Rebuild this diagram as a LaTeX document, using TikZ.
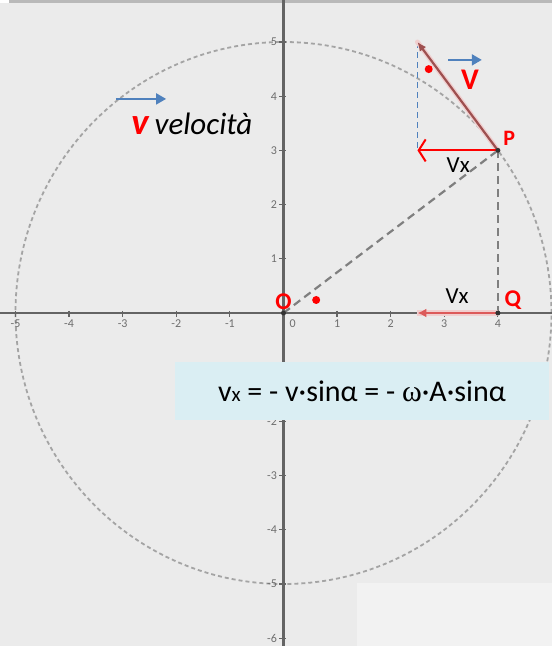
\documentclass[tikz,border=0pt]{standalone}
\usepackage{fontspec}
\setmainfont{Carlito}
\newfontfamily\omegafont{Liberation Serif}
\usepackage{tikz}
\usetikzlibrary{positioning,arrows.meta}

\definecolor{bggray}{HTML}{EBEBEB}
\definecolor{stripgray}{HTML}{B9B9B9}
\definecolor{axisgray}{HTML}{646464}
\definecolor{tickgray}{HTML}{6E6E6E}
\definecolor{circgray}{HTML}{A4A4A4}
\definecolor{guidegray}{HTML}{7F7F7F}
\definecolor{vred}{HTML}{FF0000}
\definecolor{vbrown}{HTML}{9E5050}
\definecolor{vglow}{HTML}{F0CFCF}
\definecolor{axred}{HTML}{DC5A5A}
\definecolor{officeblue}{HTML}{4F81BD}
\definecolor{boxblue}{HTML}{DAEEF3}
\definecolor{palebox}{HTML}{F2F2F2}

\begin{document}
\begin{tikzpicture}[
    x=53.6pt, y=54.2pt,
    axis/.style={draw=axisgray, line width=2.4pt},
    tickmark/.style={draw=axisgray, line width=1.2pt},
    ticklabel/.style={
        font=\fontsize{12}{12}\selectfont,
        text=tickgray,
        inner sep=1pt
    },
    orbit/.style={draw=circgray, line width=1.8pt, dash pattern=on 4pt off 3pt},
    guide/.style={draw=guidegray, line width=2.2pt, dash pattern=on 8pt off 5pt},
    point/.style={circle, fill=black!80, inner sep=0pt, minimum size=5pt},
    reddot/.style={circle, fill=vred, inner sep=0pt, minimum size=8pt},
    redlabel/.style={text=vred, font=\bfseries\fontsize{22}{22}\selectfont, inner sep=0pt},
    vxlabel/.style={font=\fontsize{23}{23}\selectfont, inner sep=0pt},
    bluearrow/.style={draw=officeblue, line width=2pt, -{Triangle[length=10pt,width=11pt]}},
    formula/.style={
        fill=boxblue,
        minimum width=374pt,
        minimum height=58pt,
        font=\fontsize{30}{30}\selectfont
    }
]

% canvas
\useasboundingbox[fill=bggray] (-5.289,-6.144) rectangle (5.009,5.775);
\fill[stripgray] (-5.121,5.775) rectangle (5.009,5.72);
\fill[white] (-5.289,5.775) rectangle (-5.121,5.72);

% points
\coordinate (O) at (0,0);
\coordinate (P) at (4,3);
\coordinate (Q) at (4,0);
\coordinate (vtip) at (2.5,5);
\coordinate (vxtip) at (2.5,3);
\coordinate (qtip) at (2.5,0);

% circle and axes
\draw[orbit] (O) ellipse [x radius=5, y radius=5];
\draw[axis] (-5.289,0) -- (5.009,0);
\draw[axis] (0,-6.144) -- (0,5.775);

\foreach \xv in {-5,...,-1,1,2,3,4} {
    \draw[tickmark] (\xv,0.04) -- (\xv,-0.08);
    \node[ticklabel, anchor=north] at (\xv,-0.1) {\xv};
}
\node[ticklabel, anchor=north] at (0.17,-0.1) {0};
\foreach \yv in {-6,...,-1,1,2,3,4,5} {
    \draw[tickmark] (-0.08,\yv) -- (0.04,\yv);
    \node[ticklabel, anchor=east] at (-0.1,\yv) {\yv};
}

% projections
\draw[guide] (O) -- (P);
\draw[guide] (P) -- (Q);
\draw[draw=officeblue, line width=1.8pt, dash pattern=on 6pt off 4pt] (vtip) -- (vxtip);

% velocity and its x component
\draw[vglow, line width=5pt, line cap=round] (P) -- (vtip);
\draw[vbrown, line width=2.2pt, -{Latex[length=9pt,width=8pt]}] (P) -- (vtip);
\draw[vred, line width=2pt, -{Straight Barb[length=7pt,width=22pt]}] (P) -- (vxtip);
\draw[vglow, line width=6pt] (Q) -- (qtip);
\draw[axred, line width=2.6pt, -{Latex[length=9pt,width=9pt]}] (Q) -- (qtip);

\node[point] (o) at (O) {};
\node[point] (p) at (P) {};
\node[point] (q) at (Q) {};

\node[reddot] (dot1) at (2.71,4.50) {};
\node[reddot] (dot2) at (0.61,0.24) {};

% labels
\node[redlabel, font=\bfseries\fontsize{30}{30}\selectfont] (vlab) at (3.48,4.30) {V};
\node[redlabel] (plab) at (4.21,3.23) {P};
\node[redlabel, font=\bfseries\fontsize{24}{24}\selectfont] (olab) at (0,0.2) {O};
\node[redlabel, font=\bfseries\fontsize{24}{24}\selectfont] (qlab) at (4.28,0.24) {Q};
\node[vxlabel] (vx1) at (3.26,2.73) {Vx};
\node[vxlabel] (vx2) at (3.24,0.31) {Vx};

\coordinate (a1) at (3.07,4.67);
\coordinate (a2) at (3.70,4.67);
\draw[bluearrow] (a1) -- (a2);
\coordinate (b1) at (-3.125,3.95);
\coordinate (b2) at (-2.19,3.95);
\draw[bluearrow] (b1) -- (b2);

\node[inner sep=0pt] (legend) at (-1.71,3.49)
{{\fontsize{37}{37}\selectfont\bfseries\itshape\color{vred}v}\hspace{6pt}{\fontsize{31}{31}\selectfont\itshape velocità}};

% boxes
\fill[palebox] (1.371,-4.98) rectangle (5.009,-6.144);
\node[formula] (eq) at (1.464,-1.439)
{v{\fontsize{21}{21}\selectfont x} = - v·sinα = - {\omegafont ω}·A·sinα};

\end{tikzpicture}
\end{document}
